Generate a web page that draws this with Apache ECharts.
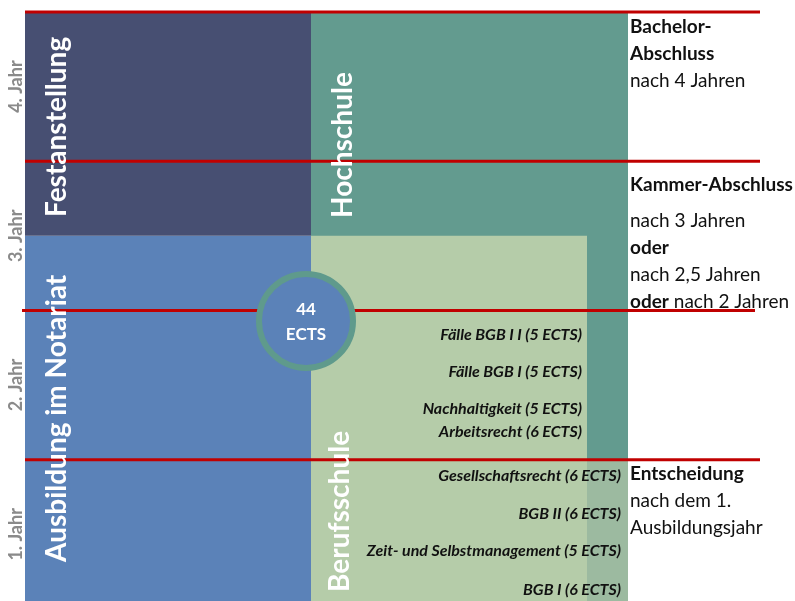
<!DOCTYPE html>
<html>
<head>
<meta charset="utf-8">
<script src="https://cdn.jsdelivr.net/npm/echarts@6/dist/echarts.min.js"></script>
<style>
  html, body { margin: 0; background: #fff; }
  #chart { width: 795px; height: 601px; }
</style>
</head>
<body>
<div id="chart"></div>
<script>
// Jahre (y-Achse in Ausbildungsjahren)
const yearLabels = ['1. Jahr', '2. Jahr', '3. Jahr', '4. Jahr']
const yearMarks = [1, 2, 3, 4]

// Phasen: von/bis in Jahren
const phaseNames = ['Ausbildung im Notariat', 'Festanstellung', 'Hochschule', 'Berufsschule']
const phaseFrom = [0, 2.5, 1, 0]
const phaseTo = [2.5, 4, 4, 2.5]

// Berufsschul-Module (Lage in Jahren)
const moduleNames = ['BGB I', 'Zeit- und Selbstmanagement', 'BGB II', 'Gesellschaftsrecht',
  'Arbeitsrecht', 'Nachhaltigkeit', 'Fälle BGB I', 'Fälle BGB I I']
const moduleEcts = [6, 5, 6, 6, 6, 5, 5, 5]
const moduleAt = [0.13, 0.39, 0.64, 0.89, 1.19, 1.34, 1.59, 1.84]

// Abschlüsse rechts
const noteAt = [4, 3, 1]
const noteText = [
  '{b|Bachelor-}\n{b|Abschluss}\nnach 4 Jahren',
  '{k|Kammer-Abschluss}\nnach 3 Jahren\n{b|oder}\nnach 2,5 Jahren\n{b|oder} nach 2 Jahren',
  '{b|Entscheidung}\nnach dem 1.\nAusbildungsjahr'
]

const ectsTotal = moduleEcts.reduce((a, b) => a + b, 0)

// layout
const laneX = [[0, 286], [0, 286], [286, 603], [286, 562]]
const laneColor = ['#5b82b8', '#474f72', '#639b8f', '#b5cca9']
const stripColor = '#9cbaa0'
const labelPos = [[32, 0.315], [32, 2.627], [318, 2.62], [315, 0.114]]
const lineX = [[0, 735], [-3, 730], [0, 735], [0, 735]]
const circleAt = [281, 1.93]
const FONT = 'Lato, "Open Sans", sans-serif'

const chart = echarts.init(document.getElementById('chart'))

function blockItem(params, api) {
  const i = api.value(0)
  const a = api.coord([laneX[i][0], api.value(2)])
  const b = api.coord([laneX[i][1], api.value(1)])
  const children = [{
    type: 'rect',
    shape: { x: a[0], y: a[1], width: b[0] - a[0], height: b[1] - a[1] },
    style: { fill: laneColor[i] }
  }]
  if (i === 3) {
    // Berufsschule unterhalb des Hochschul-Beginns bis an den rechten Rand
    const s0 = api.coord([laneX[3][1], Math.min(api.value(2), phaseFrom[2])])
    const s1 = api.coord([laneX[2][1], api.value(1)])
    children.push({
      type: 'rect',
      shape: { x: s0[0], y: s0[1], width: s1[0] - s0[0], height: s1[1] - s0[1] },
      style: { fill: stripColor }
    })
  }
  return { type: 'group', children }
}

function lineItem(params, api) {
  const i = params.dataIndex
  const a = api.coord([lineX[i][0], api.value(0)])
  const b = api.coord([lineX[i][1], api.value(0)])
  return {
    type: 'line',
    shape: { x1: a[0], y1: a[1], x2: b[0], y2: b[1] },
    style: { stroke: '#c00000', lineWidth: 3 }
  }
}

function phaseLabelItem(params, api) {
  const i = params.dataIndex
  const p = api.coord(labelPos[i])
  return {
    type: 'text',
    x: p[0], y: p[1], rotation: Math.PI / 2,
    style: {
      text: phaseNames[i], fill: '#fff',
      font: 'bold 28px ' + FONT, align: 'left', verticalAlign: 'middle'
    }
  }
}

function yearItem(params, api) {
  const p = api.coord([-9, api.value(0) - 0.5])
  return {
    type: 'text',
    x: p[0], y: p[1], rotation: Math.PI / 2,
    style: {
      text: yearLabels[params.dataIndex], fill: '#8a8a8a',
      font: 'bold 18px ' + FONT, align: 'center', verticalAlign: 'middle'
    }
  }
}

function moduleItem(params, api) {
  const i = params.dataIndex
  const y = api.value(0)
  const right = y < phaseFrom[2] ? 596 : 557
  const p = api.coord([right, y])
  return {
    type: 'text',
    x: p[0], y: p[1],
    style: {
      text: moduleNames[i] + ' (' + moduleEcts[i] + ' ECTS)', fill: '#111',
      font: 'italic bold 16px ' + FONT, align: 'right', verticalAlign: 'middle'
    }
  }
}

function noteItem(params, api) {
  const p = api.coord([605, api.value(0)])
  return {
    type: 'text',
    x: p[0], y: p[1] + 1,
    style: {
      text: noteText[params.dataIndex], fill: '#111',
      font: '19px ' + FONT, lineHeight: 27,
      align: 'left', verticalAlign: 'top',
      rich: {
        b: { fontWeight: 'bold', fontSize: 19, fontFamily: FONT, lineHeight: 27 },
        k: { fontWeight: 'bold', fontSize: 19, fontFamily: FONT, lineHeight: 45 }
      }
    }
  }
}

function circleItem(params, api) {
  const c = api.coord([api.value(0), api.value(1)])
  return {
    type: 'group',
    children: [
      { type: 'circle', shape: { cx: c[0], cy: c[1], r: 47 }, style: { fill: '#5b82b8', stroke: '#5f9a8c', lineWidth: 6 } },
      { type: 'text', x: c[0], y: c[1] - 11, style: { text: String(api.value(2)), fill: '#fff', font: 'bold 17px ' + FONT, align: 'center', verticalAlign: 'middle' } },
      { type: 'text', x: c[0], y: c[1] + 14, style: { text: 'ECTS', fill: '#fff', font: 'bold 17px ' + FONT, align: 'center', verticalAlign: 'middle' } }
    ]
  }
}

chart.setOption({
  animation: false,
  grid: { left: 25, right: 35, top: 12, bottom: 0 },
  xAxis: { type: 'value', min: 0, max: 735, show: false },
  // Jahr 0 liegt knapp unter dem Bildrand
  yAxis: { type: 'value', min: 0.0536, max: 4, show: false },
  series: [
    {
      type: 'custom', z: 1, renderItem: blockItem,
      data: phaseNames.map((n, i) => [i, phaseFrom[i], phaseTo[i]])
    },
    {
      type: 'custom', z: 2, renderItem: lineItem,
      data: yearMarks.map(y => [y])
    },
    {
      type: 'custom', z: 3, renderItem: phaseLabelItem,
      data: phaseNames.map((n, i) => [i])
    },
    {
      type: 'custom', z: 3, renderItem: yearItem,
      data: yearMarks.map(y => [y])
    },
    {
      type: 'custom', z: 3, renderItem: moduleItem,
      data: moduleAt.map(y => [y])
    },
    {
      type: 'custom', z: 3, renderItem: noteItem,
      data: noteAt.map(y => [y])
    },
    {
      type: 'custom', z: 4, renderItem: circleItem,
      data: [[circleAt[0], circleAt[1], ectsTotal]]
    }
  ]
})
</script>
</body>
</html>
